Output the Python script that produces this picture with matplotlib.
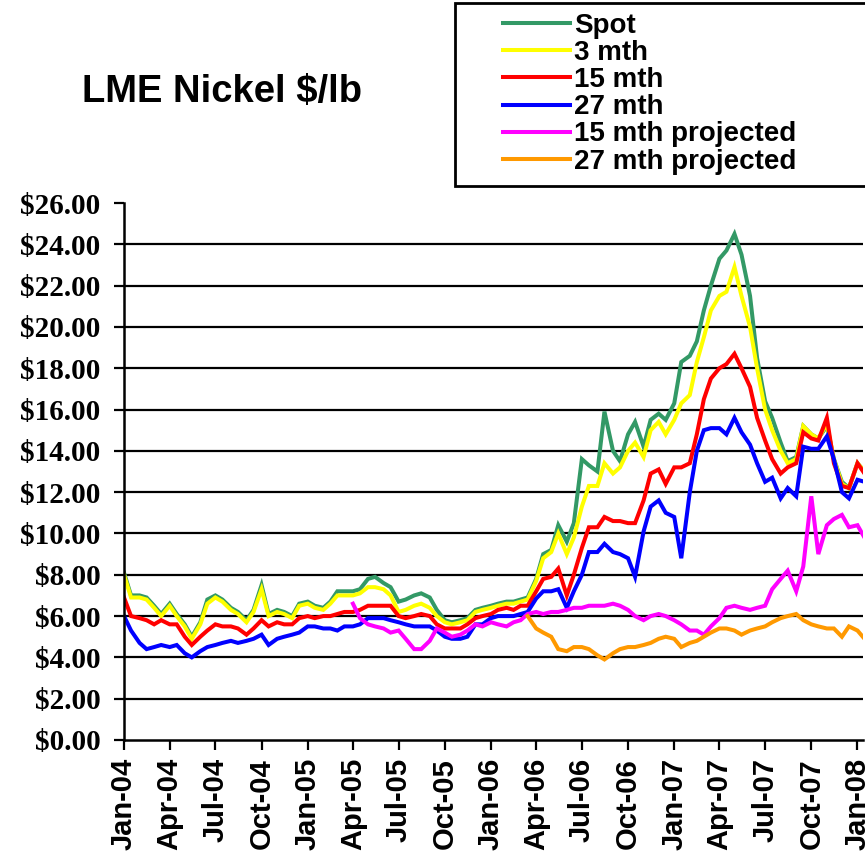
import matplotlib
matplotlib.use('Agg')
import matplotlib.pyplot as plt
import matplotlib.dates as mdates
import matplotlib.patches as mpatches
from matplotlib.ticker import MultipleLocator, StrMethodFormatter
import numpy as np
import pandas as pd

# ── data: semi-monthly readings, Jan-04 .. mid Jan-08 ──────────
dates = pd.date_range('2004-01-01', '2008-01-15', freq='SMS')

spot = [8.1, 7.0, 7.0, 6.9, 6.5, 6.1, 6.6, 6.1, 5.6, 5.0,
        5.7, 6.8, 7.0, 6.8, 6.4, 6.2, 5.8, 6.3, 7.5, 6.1,
        6.3, 6.2, 6.0, 6.6, 6.7, 6.5, 6.4, 6.7, 7.2, 7.2,
        7.2, 7.3, 7.8, 7.9, 7.6, 7.4, 6.7, 6.8, 7.0, 7.1,
        6.9, 6.3, 5.8, 5.7, 5.8, 5.9, 6.3, 6.4, 6.5, 6.6,
        6.7, 6.7, 6.8, 6.9, 7.8, 9.0, 9.2, 10.4, 9.6, 10.5,
        13.6, 13.3, 13.0, 15.9, 14.0, 13.5, 14.8, 15.4, 14.2, 15.5,
        15.8, 15.5, 16.3, 18.3, 18.6, 19.3, 20.8, 22.0, 23.3, 23.7,
        24.5, 23.5, 21.5, 18.5, 16.4, 15.6, 14.4, 13.5, 13.7, 15.2,
        14.8, 14.6, 15.2, 13.6, 12.5, 12.2, 13.4, 13.0]

mth3 = [8.0, 6.9, 6.9, 6.8, 6.4, 6.0, 6.5, 6.0, 5.5, 4.9,
        5.6, 6.6, 6.9, 6.7, 6.3, 6.1, 5.7, 6.2, 7.3, 6.0,
        6.2, 6.1, 5.9, 6.5, 6.6, 6.4, 6.3, 6.6, 7.0, 7.0,
        7.0, 7.1, 7.4, 7.4, 7.3, 7.0, 6.2, 6.3, 6.5, 6.6,
        6.4, 6.0, 5.7, 5.6, 5.7, 5.8, 6.2, 6.3, 6.4, 6.5,
        6.6, 6.6, 6.7, 6.8, 7.7, 8.8, 9.1, 10.0, 9.0, 9.8,
        11.3, 12.3, 12.3, 13.4, 12.9, 13.2, 14.0, 14.4, 13.7, 15.0,
        15.4, 14.8, 15.5, 16.3, 16.7, 18.3, 19.5, 20.8, 21.5, 21.7,
        22.9, 21.5, 20.0, 18.0, 16.0, 15.0, 14.0, 13.4, 13.6, 15.2,
        14.8, 14.6, 15.3, 13.6, 12.4, 12.2, 13.4, 13.0]

mth15 = [6.9, 6.0, 5.9, 5.8, 5.6, 5.8, 5.6, 5.6, 5.0, 4.6,
         5.0, 5.3, 5.6, 5.5, 5.5, 5.4, 5.1, 5.4, 5.8, 5.5,
         5.7, 5.6, 5.6, 5.9, 6.0, 5.9, 6.0, 6.0, 6.1, 6.2,
         6.2, 6.3, 6.5, 6.5, 6.5, 6.5, 6.0, 5.9, 6.0, 6.1,
         6.0, 5.6, 5.4, 5.4, 5.4, 5.6, 5.9, 6.0, 6.1, 6.3,
         6.4, 6.3, 6.5, 6.5, 7.2, 7.8, 7.9, 8.3, 7.0, 8.0,
         9.3, 10.3, 10.3, 10.8, 10.6, 10.6, 10.5, 10.5, 11.6, 12.9,
         13.1, 12.4, 13.2, 13.2, 13.4, 14.8, 16.5, 17.5, 18.0, 18.2,
         18.7, 18.0, 17.1, 15.6, 14.5, 13.6, 12.9, 13.2, 13.4, 14.9,
         14.6, 14.5, 15.6, 13.4, 12.3, 12.2, 13.4, 12.9]

mth27 = [6.0, 5.3, 4.7, 4.4, 4.5, 4.6, 4.5, 4.6, 4.2, 4.0,
         4.3, 4.5, 4.6, 4.7, 4.8, 4.7, 4.8, 4.9, 5.1, 4.6,
         4.9, 5.0, 5.1, 5.2, 5.5, 5.5, 5.4, 5.4, 5.3, 5.5,
         5.5, 5.6, 5.9, 5.9, 5.9, 5.8, 5.7, 5.6, 5.5, 5.5,
         5.5, 5.3, 5.0, 4.9, 4.9, 5.0, 5.6, 5.6, 5.9, 6.0,
         6.0, 6.0, 6.1, 6.2, 6.85, 7.2, 7.2, 7.3, 6.4, 7.2,
         8.0, 9.1, 9.1, 9.5, 9.1, 9.0, 8.8, 7.9, 10.1, 11.3,
         11.6, 11.0, 10.8, 8.8, 12.0, 14.0, 15.0, 15.1, 15.1, 14.8,
         15.6, 14.9, 14.3, 13.4, 12.5, 12.7, 11.7, 12.2, 11.8, 14.2,
         14.1, 14.1, 14.7, 13.6, 12.0, 11.7, 12.6, 12.5]

proj15 = [None] * 30 + [
    6.6, 5.9, 5.6, 5.5, 5.4, 5.2, 5.3, 4.9, 4.4, 4.4,
    4.8, 5.4, 5.2, 5.0, 5.1, 5.3, 5.6, 5.5, 5.7, 5.6,
    5.5, 5.7, 5.8, 6.1, 6.2, 6.1, 6.2, 6.2, 6.3, 6.4,
    6.4, 6.5, 6.5, 6.5, 6.6, 6.5, 6.3, 6.0, 5.8, 6.0,
    6.1, 6.0, 5.8, 5.6, 5.3, 5.3, 5.1, 5.5, 5.9, 6.4,
    6.5, 6.4, 6.3, 6.4, 6.5, 7.3, 7.8, 8.2, 7.2, 8.4,
    11.8, 9.0, 10.4, 10.7, 10.9, 10.3, 10.4, 9.8]

proj27 = [None] * 53 + [
    6.0, 5.4, 5.2, 5.0, 4.4, 4.3, 4.5,
    4.5, 4.4, 4.1, 3.9, 4.2, 4.4, 4.5, 4.5, 4.6, 4.7,
    4.9, 5.0, 4.9, 4.5, 4.7, 4.8, 5.0, 5.2, 5.4, 5.4,
    5.3, 5.1, 5.3, 5.4, 5.5, 5.7, 5.9, 6.0, 6.1, 5.8,
    5.6, 5.5, 5.4, 5.4, 5.0, 5.5, 5.3, 4.9]

labels = ['Spot', '3 mth', '15 mth', '27 mth', '15 mth projected', '27 mth projected']
colors = ['#339966', '#FFFF00', '#FF0000', '#0000FF', '#FF00FF', '#FF9900']
series = [spot, mth3, mth15, mth27, proj15, proj27]

# ── figure ───────────────────────────────────────────────────
W, H = 865, 858
fig = plt.figure(figsize=(W / 100, H / 100), dpi=100)
fig.patch.set_facecolor('white')
ax = fig.add_axes([124 / W, 1 - 740 / H, (863 - 124) / W, (740 - 203) / H])

handles = []
for vals, col, lab in zip(series, colors, labels):
    y = np.array(vals, dtype=float)
    ln, = ax.plot(dates, y, color=col, lw=2.9, label=lab, solid_joinstyle='miter')
    handles.append(ln)

ax.set_xlim(pd.Timestamp('2004-01-01'), pd.Timestamp('2008-01-12'))
ax.set_ylim(0, 26)
ax.yaxis.set_major_locator(MultipleLocator(2))
ax.yaxis.set_major_formatter(StrMethodFormatter('${x:,.2f}'))
ax.xaxis.set_major_locator(mdates.MonthLocator(bymonth=[1, 4, 7, 10]))
ax.xaxis.set_major_formatter(mdates.DateFormatter('%b-%y'))

# horizontal gridlines (none at the top)
for v in np.arange(2, 26, 2):
    ax.axhline(v, color='black', lw=1.6, zorder=0.5)

for s in ['top', 'right']:
    ax.spines[s].set_visible(False)
for s in ['left', 'bottom']:
    ax.spines[s].set_linewidth(1.8)
    ax.spines[s].set_color('black')

ax.tick_params(axis='both', direction='out', length=7, width=1.6, color='black')
ax.tick_params(axis='y', pad=10)
ax.tick_params(axis='x', pad=6)
for t in ax.get_yticklabels():
    t.set_fontfamily('Liberation Serif')
    t.set_fontweight('bold')
    t.set_fontsize(21)
for t in ax.get_xticklabels():
    t.set_fontfamily('Liberation Sans')
    t.set_fontweight('bold')
    t.set_fontsize(21)
    t.set_rotation(90)

# ── title ────────────────────────────────────────────────────
fig.text(222 / W, 1 - 92 / H, 'LME Nickel $/lb', ha='center', va='center',
         fontsize=27.5, fontweight='bold', family='Liberation Sans')

# ── legend box ───────────────────────────────────────────────
frame = mpatches.Rectangle((455 / W, 1 - 186 / H), 420 / W, 183 / H,
                           transform=fig.transFigure, facecolor='white',
                           edgecolor='black', lw=2)
fig.patches.append(frame)
fig.legend(handles, labels, loc='upper left',
           bbox_to_anchor=(503 / W, 1 - 13 / H), bbox_transform=fig.transFigure,
           frameon=False, borderpad=0, borderaxespad=0,
           handlelength=2.4, handletextpad=0.15, labelspacing=0.04,
           prop={'family': 'Liberation Sans', 'weight': 'bold', 'size': 20})

fig.savefig('out.png', dpi=100, facecolor='white')
print("Saved: out.png")
